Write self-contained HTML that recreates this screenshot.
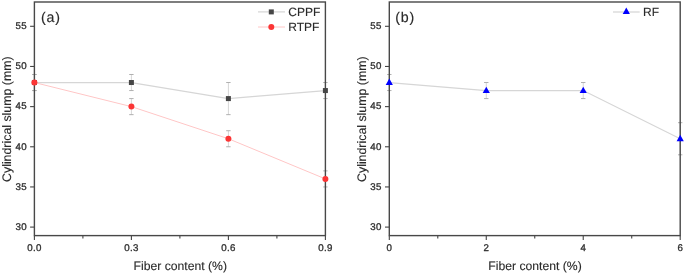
<!DOCTYPE html>
<html><head><meta charset="utf-8"><style>
html,body{margin:0;padding:0;background:#fff;}
body{width:685px;height:274px;overflow:hidden;}
svg{display:block;filter:blur(0.45px);}
text{font-family:"Liberation Sans",sans-serif;text-rendering:geometricPrecision;stroke-width:0.12px;stroke-linejoin:round;}
.lab{font-size:9.7px;fill:#303030;stroke:#303030;stroke-width:0.32px;letter-spacing:0.35px;}
.tt{font-size:12.2px;fill:#2a2a2a;stroke:#2a2a2a;}
.lg{font-size:12px;fill:#2a2a2a;stroke:#2a2a2a;}
.pl{font-size:14.2px;letter-spacing:0.85px;fill:#2a2a2a;stroke:#2a2a2a;stroke-width:0.15px;}
</style></head><body>
<svg width="685" height="274" viewBox="0 0 685 274">
<line x1="30.10" y1="227.10" x2="34.4" y2="227.10" stroke="#444" stroke-width="1.1"/>
<text transform="translate(26.95,229.90) scale(1.0,1)" text-anchor="end" class="lab">30</text>
<line x1="30.10" y1="186.94" x2="34.4" y2="186.94" stroke="#444" stroke-width="1.1"/>
<text transform="translate(26.95,189.74) scale(1.0,1)" text-anchor="end" class="lab">35</text>
<line x1="30.10" y1="146.78" x2="34.4" y2="146.78" stroke="#444" stroke-width="1.1"/>
<text transform="translate(26.95,149.58) scale(1.0,1)" text-anchor="end" class="lab">40</text>
<line x1="30.10" y1="106.62" x2="34.4" y2="106.62" stroke="#444" stroke-width="1.1"/>
<text transform="translate(26.95,109.42) scale(1.0,1)" text-anchor="end" class="lab">45</text>
<line x1="30.10" y1="66.46" x2="34.4" y2="66.46" stroke="#444" stroke-width="1.1"/>
<text transform="translate(26.95,69.26) scale(1.0,1)" text-anchor="end" class="lab">50</text>
<line x1="30.10" y1="26.30" x2="34.4" y2="26.30" stroke="#444" stroke-width="1.1"/>
<text transform="translate(26.95,29.10) scale(1.0,1)" text-anchor="end" class="lab">55</text>
<line x1="34.40" y1="235.6" x2="34.40" y2="239.90" stroke="#444" stroke-width="1.1"/>
<text transform="translate(34.58,250.7) scale(1.0,1)" text-anchor="middle" class="lab">0.0</text>
<line x1="131.40" y1="235.6" x2="131.40" y2="239.90" stroke="#444" stroke-width="1.1"/>
<text transform="translate(131.58,250.7) scale(1.0,1)" text-anchor="middle" class="lab">0.3</text>
<line x1="228.40" y1="235.6" x2="228.40" y2="239.90" stroke="#444" stroke-width="1.1"/>
<text transform="translate(228.58,250.7) scale(1.0,1)" text-anchor="middle" class="lab">0.6</text>
<line x1="325.40" y1="235.6" x2="325.40" y2="239.90" stroke="#444" stroke-width="1.1"/>
<text transform="translate(325.58,250.7) scale(1.0,1)" text-anchor="middle" class="lab">0.9</text>
<line x1="82.90" y1="235.6" x2="82.90" y2="238.60" stroke="#444" stroke-width="1.1"/>
<line x1="179.90" y1="235.6" x2="179.90" y2="238.60" stroke="#444" stroke-width="1.1"/>
<line x1="276.90" y1="235.6" x2="276.90" y2="238.60" stroke="#444" stroke-width="1.1"/>
<text x="41.00" y="22.0" class="pl">(a)</text>
<text x="180.30" y="270.1" text-anchor="middle" class="tt">Fiber content (%)</text>
<text transform="translate(11.20,119.20) rotate(-90)" text-anchor="middle" class="tt" style="font-size:12.35px">Cylindrical slump (mm)</text>
<polyline points="34.40,82.52 131.40,82.52 228.40,98.59 325.40,90.56" fill="none" stroke="#d6d6d6" stroke-width="1.25"/>
<path d="M34.40 74.49V90.56" stroke="#d6d6d6" stroke-width="1.0" fill="none"/>
<path d="M32.20 74.49H36.60M32.20 90.56H36.60" stroke="#b0b0b0" stroke-width="1.0" fill="none"/>
<path d="M131.40 74.49V90.56" stroke="#d6d6d6" stroke-width="1.0" fill="none"/>
<path d="M129.20 74.49H133.60M129.20 90.56H133.60" stroke="#b0b0b0" stroke-width="1.0" fill="none"/>
<path d="M228.40 82.52V114.65" stroke="#d6d6d6" stroke-width="1.0" fill="none"/>
<path d="M226.20 82.52H230.60M226.20 114.65H230.60" stroke="#b0b0b0" stroke-width="1.0" fill="none"/>
<path d="M325.40 82.52V98.59" stroke="#d6d6d6" stroke-width="1.0" fill="none"/>
<path d="M323.20 82.52H327.60M323.20 98.59H327.60" stroke="#b0b0b0" stroke-width="1.0" fill="none"/>
<polyline points="34.40,82.52 131.40,106.62 228.40,138.75 325.40,178.91" fill="none" stroke="#ffc6c6" stroke-width="1.0"/>
<path d="M34.40 74.49V90.56" stroke="#d6d6d6" stroke-width="1.0" fill="none"/>
<path d="M32.20 74.49H36.60M32.20 90.56H36.60" stroke="#b0b0b0" stroke-width="1.0" fill="none"/>
<path d="M131.40 98.59V114.65" stroke="#d6d6d6" stroke-width="1.0" fill="none"/>
<path d="M129.20 98.59H133.60M129.20 114.65H133.60" stroke="#b0b0b0" stroke-width="1.0" fill="none"/>
<path d="M228.40 130.72V146.78" stroke="#d6d6d6" stroke-width="1.0" fill="none"/>
<path d="M226.20 130.72H230.60M226.20 146.78H230.60" stroke="#b0b0b0" stroke-width="1.0" fill="none"/>
<path d="M325.40 170.88V186.94" stroke="#d6d6d6" stroke-width="1.0" fill="none"/>
<path d="M323.20 170.88H327.60M323.20 186.94H327.60" stroke="#b0b0b0" stroke-width="1.0" fill="none"/>
<rect x="34.4" y="2.0" width="291.00" height="233.60" fill="none" stroke="#484848" stroke-width="1.4"/>
<rect x="31.90" y="80.02" width="5.0" height="5.0" fill="#464646"/>
<rect x="128.90" y="80.02" width="5.0" height="5.0" fill="#464646"/>
<rect x="225.90" y="96.09" width="5.0" height="5.0" fill="#464646"/>
<rect x="322.90" y="88.06" width="5.0" height="5.0" fill="#464646"/>
<circle cx="34.40" cy="82.52" r="3.0" fill="#fb3535"/>
<circle cx="131.40" cy="106.62" r="3.0" fill="#fb3535"/>
<circle cx="228.40" cy="138.75" r="3.0" fill="#fb3535"/>
<circle cx="325.40" cy="178.91" r="3.0" fill="#fb3535"/>
<line x1="258" y1="11.9" x2="285" y2="11.9" stroke="#d6d6d6" stroke-width="1.25"/>
<rect x="268.80" y="9.40" width="5.0" height="5.0" fill="#464646"/>
<line x1="258" y1="27.0" x2="285" y2="27.0" stroke="#ffc6c6" stroke-width="1.0"/>
<circle cx="271.30" cy="26.90" r="3.0" fill="#fb3535"/>
<text x="288.3" y="16.2" class="lg">CPPF</text>
<text x="288.3" y="31.3" class="lg">RTPF</text>
<line x1="385.00" y1="227.10" x2="389.3" y2="227.10" stroke="#444" stroke-width="1.1"/>
<text transform="translate(381.85,229.90) scale(1.0,1)" text-anchor="end" class="lab">30</text>
<line x1="385.00" y1="186.94" x2="389.3" y2="186.94" stroke="#444" stroke-width="1.1"/>
<text transform="translate(381.85,189.74) scale(1.0,1)" text-anchor="end" class="lab">35</text>
<line x1="385.00" y1="146.78" x2="389.3" y2="146.78" stroke="#444" stroke-width="1.1"/>
<text transform="translate(381.85,149.58) scale(1.0,1)" text-anchor="end" class="lab">40</text>
<line x1="385.00" y1="106.62" x2="389.3" y2="106.62" stroke="#444" stroke-width="1.1"/>
<text transform="translate(381.85,109.42) scale(1.0,1)" text-anchor="end" class="lab">45</text>
<line x1="385.00" y1="66.46" x2="389.3" y2="66.46" stroke="#444" stroke-width="1.1"/>
<text transform="translate(381.85,69.26) scale(1.0,1)" text-anchor="end" class="lab">50</text>
<line x1="385.00" y1="26.30" x2="389.3" y2="26.30" stroke="#444" stroke-width="1.1"/>
<text transform="translate(381.85,29.10) scale(1.0,1)" text-anchor="end" class="lab">55</text>
<line x1="389.30" y1="235.6" x2="389.30" y2="239.90" stroke="#444" stroke-width="1.1"/>
<text transform="translate(389.48,250.7) scale(1.0,1)" text-anchor="middle" class="lab">0</text>
<line x1="486.27" y1="235.6" x2="486.27" y2="239.90" stroke="#444" stroke-width="1.1"/>
<text transform="translate(486.45,250.7) scale(1.0,1)" text-anchor="middle" class="lab">2</text>
<line x1="583.23" y1="235.6" x2="583.23" y2="239.90" stroke="#444" stroke-width="1.1"/>
<text transform="translate(583.41,250.7) scale(1.0,1)" text-anchor="middle" class="lab">4</text>
<line x1="680.20" y1="235.6" x2="680.20" y2="239.90" stroke="#444" stroke-width="1.1"/>
<text transform="translate(680.38,250.7) scale(1.0,1)" text-anchor="middle" class="lab">6</text>
<line x1="437.78" y1="235.6" x2="437.78" y2="238.60" stroke="#444" stroke-width="1.1"/>
<line x1="534.75" y1="235.6" x2="534.75" y2="238.60" stroke="#444" stroke-width="1.1"/>
<line x1="631.72" y1="235.6" x2="631.72" y2="238.60" stroke="#444" stroke-width="1.1"/>
<text x="395.30" y="22.0" class="pl">(b)</text>
<text x="535.00" y="270.1" text-anchor="middle" class="tt">Fiber content (%)</text>
<text transform="translate(366.10,119.20) rotate(-90)" text-anchor="middle" class="tt" style="font-size:12.35px">Cylindrical slump (mm)</text>
<polyline points="389.30,82.52 486.27,90.56 583.23,90.56 680.20,138.75" fill="none" stroke="#d6d6d6" stroke-width="1.25"/>
<path d="M389.30 74.49V90.56" stroke="#d6d6d6" stroke-width="1.0" fill="none"/>
<path d="M387.10 74.49H391.50M387.10 90.56H391.50" stroke="#b0b0b0" stroke-width="1.0" fill="none"/>
<path d="M486.27 82.52V98.59" stroke="#d6d6d6" stroke-width="1.0" fill="none"/>
<path d="M484.07 82.52H488.47M484.07 98.59H488.47" stroke="#b0b0b0" stroke-width="1.0" fill="none"/>
<path d="M583.23 82.52V98.59" stroke="#d6d6d6" stroke-width="1.0" fill="none"/>
<path d="M581.03 82.52H585.43M581.03 98.59H585.43" stroke="#b0b0b0" stroke-width="1.0" fill="none"/>
<path d="M680.20 122.68V154.81" stroke="#d6d6d6" stroke-width="1.0" fill="none"/>
<path d="M678.00 122.68H682.40M678.00 154.81H682.40" stroke="#b0b0b0" stroke-width="1.0" fill="none"/>
<rect x="389.3" y="2.0" width="290.90" height="233.60" fill="none" stroke="#484848" stroke-width="1.4"/>
<path d="M389.30 78.62L392.90 84.92L385.70 84.92Z" fill="#0000ff"/>
<path d="M486.27 86.66L489.87 92.96L482.67 92.96Z" fill="#0000ff"/>
<path d="M583.23 86.66L586.83 92.96L579.63 92.96Z" fill="#0000ff"/>
<path d="M680.20 134.85L683.80 141.15L676.60 141.15Z" fill="#0000ff"/>
<line x1="613" y1="12" x2="639.7" y2="12" stroke="#d6d6d6" stroke-width="1.25"/>
<path d="M626.30 7.60L629.90 13.90L622.70 13.90Z" fill="#0000ff"/>
<text x="643.0" y="16.2" class="lg">RF</text>
</svg>
</body></html>
